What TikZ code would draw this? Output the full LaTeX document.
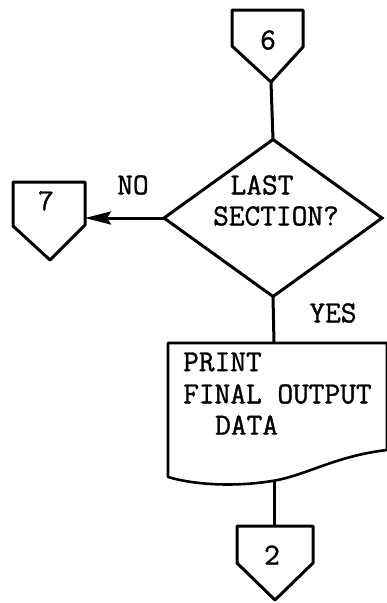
\documentclass[tikz,border=0pt]{standalone}
\usepackage{fontspec}
\setmonofont{Latin Modern Mono}[FakeBold=1.2]
\usetikzlibrary{shapes.geometric,arrows.meta}
\tikzset{
  flow/.style={line width=3pt, line join=round},
  connector/.style={flow, fill=white},
  label/.style={font=\ttfamily\fontsize{30.5}{34}\selectfont, inner sep=0pt},
  decision/.style={diamond, draw, line width=3pt, minimum width=218pt,
    minimum height=157pt, inner sep=0pt, outer sep=0pt},
  arrowline/.style={flow, -{Stealth[length=26pt,width=13pt,inset=4pt]}},
}
\begin{document}
\begin{tikzpicture}[x=1pt,y=-1pt]
\useasboundingbox (0,0) rectangle (387,603);

% off-page connector 6
\draw[connector] (232,10) -- (303,10) -- (303,47) -- (271,82) -- (232,46) -- cycle;
\coordinate (c6tip) at (271,82);
\node[label] (l6) at (268,40) {6};

% decision
\node[decision] (dec) at (273,218) {};
\node[label] (last) at (262,185) {LAST};
\node[label] (sect) at (276,216) {SECTION?};

% off-page connector 7
\draw[connector] (13,182) -- (85,182) -- (85,225) -- (50,260) -- (13,226) -- cycle;
\coordinate (c7in) at (85,218);
\node[label] (l7) at (46,201) {7};
\node[label] (no) at (133,185) {NO};

% document box
\draw[flow, line width=2.6pt] (168,343) -- (387,343) -- (387,450)
  .. controls (335,456) and (305,476) .. (272,481)
  .. controls (235,487) and (195,485) .. (168,477) -- cycle;
\coordinate (boxtop) at (274,343);
\coordinate (boxbot) at (274,481);
\node[label, anchor=west] (t1) at (183,362) {PRINT};
\node[label, anchor=west] (t2) at (183,394) {FINAL OUTPUT};
\node[label, anchor=west] (t3) at (215,425) {DATA};
\node[label] (yes) at (333,313) {YES};

% off-page connector 2
\draw[connector] (237,526) -- (313,526) -- (313,563) -- (275,600) -- (237,563) -- cycle;
\coordinate (c2top) at (274,526);
\node[label] (l2) at (272,555) {2};

% flow lines
\draw[flow] (c6tip) -- (dec.north);
\draw[arrowline] (dec.west) -- (c7in);
\draw[flow] (dec.south) -- (boxtop);
\draw[flow] (boxbot) -- (c2top);
\end{tikzpicture}
\end{document}
